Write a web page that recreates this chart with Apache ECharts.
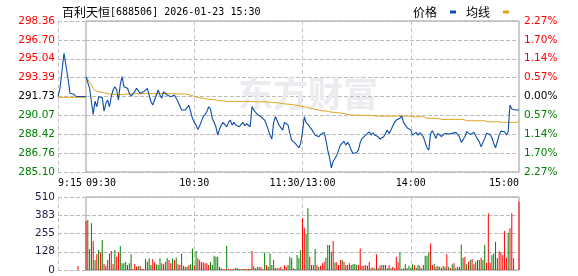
<!DOCTYPE html>
<html><head><meta charset="utf-8">
<script src="https://cdn.jsdelivr.net/npm/echarts@6/dist/echarts.min.js"></script>
<style>html,body{margin:0;padding:0;background:#fff}#c{width:578px;height:276px}</style>
</head><body><div id="c"></div>
<script>
const stockName = '百利天恒';
const stockInfo = '[688506] 2026-01-23 15:30';
const legendNames = ['价格', '均线'];
const prevClose = 291.73;
const priceMin = 285.10, priceMax = 298.36;
const priceTickLabels = ['285.10', '286.76', '288.42', '290.07', '291.73', '293.39', '295.04', '296.70', '298.36'];
const pctTickLabels = ['2.27%', '1.70%', '1.14%', '0.57%', '0.00%', '0.57%', '1.14%', '1.70%', '2.27%'];
const volMax = 510;
const volTickLabels = ['0', '128', '255', '383', '510'];
const xTickIdx = [0, 60, 120, 180, 240];
const xTickLabels = ['09:30', '10:30', '11:30/13:00', '14:00', '15:00'];
const preTimes = ['9:15','9:16','9:17','9:18','9:19','9:20','9:21','9:22','9:23','9:24','9:25','9:26','9:27','9:28','9:29'];
const prePrice = [291.73, 292.45, 292.59, 295.53, 295.53, 293.33, 292.01, 291.98, 291.92, 291.73, 291.73, 291.73, 291.73, 291.73, 291.73];
const preAvg = [291.66, 291.66, 291.66, 291.66, 291.66, 291.66, 291.66, 291.66, 291.66, 291.66, 291.66, 291.66, 291.66, 291.66, 291.66];
const preVolume = ['-', '-', '-', '-', '-', '-', '-', '-', '-', '-', 28, '-', '-', '-', '-'];
const mainPrice = [
293.47, 293.39, 292.45, 291.27, 290.16, 291.33, 290.83, 291.71, 291.71, 291.63,
290.45, 291.13, 291.42, 290.83, 291.71, 292.30, 292.59, 292.30, 291.42, 292.80,
293.47, 292.59, 292.59, 292.45, 292.01, 291.77, 291.77, 292.15, 292.45, 292.30,
292.01, 292.01, 292.15, 292.15, 292.45, 291.86, 291.27, 290.98, 291.42, 291.42,
292.30, 291.86, 291.57, 292.15, 292.01, 291.86, 291.71, 291.71, 291.71, 291.86,
291.57, 291.27, 291.13, 290.54, 290.45, 290.54, 290.75, 290.98, 290.39, 289.81,
289.46, 289.22, 288.84, 289.16, 289.57, 289.95, 290.16, 290.39, 290.83, 290.63,
289.81, 289.46, 289.07, 288.34, 288.87, 289.22, 289.46, 289.37, 289.07, 289.46,
289.66, 289.22, 289.46, 289.22, 289.37, 289.07, 289.28, 289.46, 289.16, 289.34,
289.46, 289.07, 290.83, 290.54, 290.34, 290.16, 290.10, 289.95, 289.81, 289.66,
289.28, 289.16, 288.34, 287.99, 289.46, 289.95, 289.87, 289.22, 289.16, 288.78,
289.46, 289.57, 289.22, 288.49, 287.90, 287.90, 287.61, 287.52, 287.23, 287.61,
288.63, 289.95, 289.46, 289.28, 289.07, 288.87, 288.58, 288.34, 288.34, 288.19,
288.40, 288.49, 288.58, 287.90, 287.02, 286.35, 285.47, 286.05, 286.29, 286.58,
287.02, 287.46, 287.61, 287.81, 287.46, 287.70, 287.46, 287.02, 286.73, 286.73,
286.82, 287.02, 287.70, 288.05, 288.05, 288.34, 288.49, 288.63, 288.34, 288.55,
288.34, 288.40, 288.19, 287.99, 287.99, 288.19, 288.49, 288.78, 288.49, 288.78,
288.93, 289.46, 289.66, 289.51, 289.81, 290.04, 289.46, 289.22, 288.99, 289.16,
288.78, 288.34, 288.49, 288.58, 288.34, 288.55, 288.40, 288.19, 287.70, 287.23,
287.02, 288.49, 288.72, 288.58, 288.05, 288.49, 288.34, 288.22, 288.34, 288.49,
288.58, 288.43, 288.40, 288.49, 288.63, 288.58, 288.40, 288.19, 287.70, 287.61,
288.19, 288.63, 288.69, 288.40, 288.46, 288.58, 288.28, 287.99, 287.75, 287.31,
287.70, 288.05, 288.49, 288.58, 288.40, 288.11, 287.61, 287.23, 287.23, 288.34,
288.69, 288.69, 288.63, 288.34, 288.63, 290.98, 290.63, 290.54, 290.54, 290.54, 290.54];
const mainAvg = [
293.47, 293.33, 292.97, 292.74, 292.45, 292.27, 292.21, 292.15, 292.12, 292.10,
292.04, 292.01, 291.98, 291.95, 291.95, 291.92, 291.92, 291.92, 291.89, 291.89,
291.92, 291.92, 291.92, 291.95, 291.95, 291.95, 291.95, 291.98, 291.98, 291.98,
291.98, 291.98, 291.98, 291.98, 291.98, 291.98, 291.98, 291.98, 291.98, 291.98,
291.98, 291.98, 291.98, 291.98, 291.98, 291.98, 291.98, 291.98, 291.98, 291.98,
291.98, 291.95, 291.95, 291.95, 291.95, 291.95, 291.92, 291.89, 291.86, 291.80,
291.74, 291.68, 291.66, 291.63, 291.60, 291.57, 291.54, 291.51, 291.51, 291.48,
291.48, 291.45, 291.42, 291.39, 291.36, 291.36, 291.33, 291.33, 291.30, 291.30,
291.30, 291.30, 291.30, 291.30, 291.30, 291.30, 291.30, 291.30, 291.30, 291.30,
291.27, 291.27, 291.27, 291.27, 291.27, 291.27, 291.27, 291.27, 291.27, 291.27,
291.27, 291.24, 291.24, 291.22, 291.22, 291.19, 291.19, 291.16, 291.13, 291.10,
291.10, 291.07, 291.04, 291.04, 291.01, 291.01, 290.98, 290.95, 290.92, 290.89,
290.86, 290.83, 290.80, 290.75, 290.72, 290.69, 290.63, 290.60, 290.57, 290.54,
290.51, 290.48, 290.45, 290.45, 290.42, 290.39, 290.36, 290.34, 290.34, 290.31,
290.31, 290.28, 290.25, 290.22, 290.19, 290.16, 290.13, 290.10, 290.10, 290.10,
290.10, 290.10, 290.10, 290.07, 290.07, 290.07, 290.07, 290.07, 290.07, 290.07,
290.07, 290.01, 290.01, 290.01, 290.01, 290.01, 290.01, 290.01, 290.01, 290.01,
290.01, 290.01, 290.01, 290.01, 290.01, 290.01, 290.01, 290.01, 290.01, 290.01,
290.01, 289.95, 289.95, 289.95, 289.95, 289.95, 289.95, 289.95, 289.95, 289.81,
289.81, 289.81, 289.81, 289.81, 289.81, 289.81, 289.81, 289.72, 289.72, 289.72,
289.72, 289.72, 289.72, 289.72, 289.72, 289.72, 289.72, 289.72, 289.72, 289.72,
289.72, 289.60, 289.60, 289.60, 289.60, 289.60, 289.60, 289.60, 289.60, 289.60,
289.60, 289.60, 289.51, 289.51, 289.51, 289.51, 289.51, 289.51, 289.51, 289.51,
289.46, 289.46, 289.46, 289.46, 289.46, 289.46, 289.46, 289.46, 289.46, 289.46, 289.57];
const mainVolume = [
342, 350, 147, 326, 203, 70, 110, 140, 123, 210,
42, 30, 70, 116, 133, 42, 140, 93, 123, 168,
47, 47, 58, 35, 47, 110, 7, 42, 23, 28,
28, 7, 7, 77, 58, 82, 35, 77, 54, 40,
35, 82, 47, 40, 58, 82, 70, 47, 82, 70,
86, 40, 35, 116, 30, 23, 23, 35, 40, 151,
35, 133, 82, 70, 54, 54, 47, 47, 35, 58,
35, 100, 93, 93, 23, 12, 7, 7, 170, 7,
7, 7, 7, 16, 12, 7, 7, 7, 7, 7,
7, 7, 133, 28, 12, 19, 23, 19, 7, 123,
35, 23, 116, 35, 70, 16, 12, 16, 23, 7,
35, 23, 35, 93, 82, 12, 7, 105, 82, 140,
361, 296, 252, 431, 93, 35, 35, 147, 35, 23,
30, 47, 58, 86, 175, 175, 128, 203, 54, 54,
35, 70, 70, 58, 35, 35, 47, 35, 40, 42,
35, 35, 151, 30, 30, 35, 30, 58, 12, 19,
12, 110, 12, 30, 35, 35, 35, 12, 35, 12,
23, 12, 93, 54, 123, 7, 12, 40, 12, 30,
12, 40, 35, 16, 35, 30, 12, 35, 100, 100,
123, 186, 35, 44, 23, 28, 23, 16, 28, 23,
110, 23, 12, 40, 47, 12, 23, 23, 179, 86,
93, 40, 58, 70, 77, 40, 58, 70, 70, 86,
70, 175, 51, 396, 51, 105, 116, 198, 82, 133,
123, 105, 273, 86, 261, 291, 396, 82, 0, 0, 478];
const mainVolDir = [
1,-1,-1,-1,1,-1,1,-1,1,-1,
1,1,-1,1,1,1,-1,1,1,-1,
-1,-1,-1,1,-1,-1,1,1,1,-1,
1,1,1,1,-1,-1,-1,1,1,-1,
-1,-1,1,-1,1,-1,1,1,-1,1,
-1,1,1,-1,1,1,-1,1,-1,-1,
1,-1,1,1,1,1,1,1,1,-1,
-1,-1,-1,-1,1,1,1,1,-1,1,
1,1,-1,-1,-1,1,1,-1,1,1,
1,-1,1,-1,-1,1,-1,1,1,-1,
1,-1,-1,-1,1,1,-1,1,1,-1,
1,1,-1,-1,-1,1,-1,-1,-1,-1,
1,1,-1,-1,1,-1,1,-1,1,-1,
1,1,1,-1,-1,-1,-1,1,-1,1,
1,1,-1,1,1,-1,1,1,-1,-1,
-1,1,1,1,1,1,-1,1,-1,1,
-1,1,-1,1,-1,1,1,-1,1,-1,
1,1,1,1,-1,1,-1,-1,-1,-1,
-1,-1,1,-1,-1,1,-1,-1,-1,-1,
-1,1,1,-1,1,-1,-1,1,1,-1,
1,-1,1,-1,1,-1,-1,-1,-1,-1,
1,-1,1,-1,1,1,-1,-1,-1,1,
-1,-1,1,1,1,-1,-1,-1,-1,1,
1,1,1,1,-1,1,1,-1,1,1,1];

function pad(n){return (n<10?'0':'')+n;}
const mainTimes = [];
for (let t = 9*60+30; t <= 11*60+30; t++) mainTimes.push(pad(Math.floor(t/60))+':'+pad(t%60));
for (let t = 13*60+1; t <= 15*60; t++) mainTimes.push(pad(Math.floor(t/60))+':'+pad(t%60));

const RED = '#ff0000', GREEN = '#008000', BLUE = '#0d4ea6', ORANGE = '#e0a21e';
const vDash = {color: '#c4c4c4', type: [4, 3], width: 1};
const hDash = {color: '#bcbcbc', type: 'dashed', width: 1};
const priceRows = priceTickLabels.length - 1;
const volRows = volTickLabels.length - 1;
const midRow = priceRows / 2;
function rowColor(r){ r = Math.round(Number(r)); return r === midRow ? '#000' : (r > midRow ? RED : GREEN); }
const labelFont = {fontFamily: 'DejaVu Sans', fontSize: 10.5};
const monoFont = {fontFamily: 'DejaVu Sans Mono', fontSize: 10};
function dataAxis(gridIndex, min, max){
  return {gridIndex: gridIndex, type: 'value', min: min, max: max, show: false, splitLine: {show: false}};
}
function rowAxis(gridIndex, rows, labels, pos, margin, colorFn){
  const lbl = labels ? Object.assign({show: true, margin: margin,
      formatter: (v) => labels[Math.round(Number(v))], color: colorFn}, labelFont) : {show: false};
  return {gridIndex: gridIndex, type: 'value', min: 0, max: rows, interval: 1, position: pos,
          axisLine: {show: false}, axisTick: {show: false}, axisLabel: lbl,
          splitLine: {show: true, lineStyle: {color: hDash.color, type: hDash.type, width: hDash.width}}};
}

const PL = 58, ML = 86, MW = 433, PT = 21, PH = 151, VT = 197, VH = 73;

const option = {
  animation: false,
  backgroundColor: '#fff',
  title: {
    text: '{a|' + stockName + '}{b|' + stockInfo + '}',
    left: 57, top: 1,
    textStyle: { fontWeight: 'normal', rich: {
      a: {fontFamily: 'Noto Sans CJK SC', fontSize: 12, color: '#000', fontWeight: 'normal'},
      b: {fontFamily: 'DejaVu Sans Mono', fontSize: 10, color: '#000', fontWeight: 'normal'}
    }}
  },
  legend: {
    data: legendNames, top: 1, right: 64, align: 'right', icon: 'rect',
    itemWidth: 6, itemHeight: 3, itemGap: 10,
    textStyle: {fontFamily: 'Noto Sans CJK SC', fontSize: 12, color: '#000', padding: [0, 8, 0, 0]}
  },
  graphic: [{
    type: 'text', left: 238, top: 76, z: 1, silent: true,
    style: {text: '东方财富', font: 'bold 35px "Noto Sans CJK SC"', fill: '#ececf0'}
  }],
  grid: [
    {left: PL, top: PT, width: ML-PL, height: PH, show: false},
    {left: ML, top: PT, width: MW, height: PH, show: true, borderColor: '#999', borderWidth: 1},
    {left: PL, top: VT, width: ML-PL, height: VH, show: false},
    {left: ML, top: VT, width: MW, height: VH, show: true, borderColor: '#999', borderWidth: 1}
  ],
  xAxis: [
    {gridIndex: 0, type: 'category', data: preTimes, boundaryGap: false,
     axisLine: {show: false}, axisTick: {show: false},
     axisLabel: Object.assign({interval: (i) => i === 0, alignMinLabel: 'left', margin: 6, color: '#000'}, monoFont),
     splitLine: {show: true, interval: (i) => i === 0, lineStyle: vDash}},
    {gridIndex: 1, type: 'category', data: mainTimes, boundaryGap: false,
     axisLine: {show: false}, axisTick: {show: false},
     axisLabel: Object.assign({interval: (i) => xTickIdx.indexOf(i) >= 0,
       formatter: (v, i) => xTickLabels[xTickIdx.indexOf(i)],
       alignMinLabel: 'left', alignMaxLabel: 'right', margin: 6, color: '#000', hideOverlap: false}, monoFont),
     splitLine: {show: true, interval: (i) => i === 60 || i === 120 || i === 180, lineStyle: vDash}},
    {gridIndex: 2, type: 'category', data: preTimes, boundaryGap: false,
     axisLine: {show: false}, axisTick: {show: false}, axisLabel: {show: false},
     splitLine: {show: true, interval: (i) => i === 0, lineStyle: vDash}},
    {gridIndex: 3, type: 'category', data: mainTimes, boundaryGap: false,
     axisLine: {show: false}, axisTick: {show: false}, axisLabel: {show: false},
     splitLine: {show: true, interval: (i) => i === 60 || i === 120 || i === 180, lineStyle: vDash}}
  ],
  yAxis: [
    dataAxis(0, priceMin, priceMax),
    dataAxis(1, priceMin, priceMax),
    dataAxis(2, 0, volMax),
    dataAxis(3, 0, volMax),
    rowAxis(0, priceRows, priceTickLabels, 'left', 3, rowColor),
    rowAxis(1, priceRows, pctTickLabels, 'right', 5, rowColor),
    rowAxis(2, volRows, volTickLabels, 'left', 3, '#1c1c48'),
    rowAxis(3, volRows, null, 'left', 3, null)
  ],
  series: [
    {type: 'line', xAxisIndex: 0, yAxisIndex: 0, data: preAvg, symbol: 'none', lineStyle: {color: ORANGE, width: 1}, z: 3},
    {type: 'line', xAxisIndex: 0, yAxisIndex: 0, data: prePrice, symbol: 'none', lineStyle: {color: BLUE, width: 1.1}, z: 4},
    {name: legendNames[1], type: 'line', xAxisIndex: 1, yAxisIndex: 1, data: mainAvg, symbol: 'none', itemStyle: {color: ORANGE}, lineStyle: {color: ORANGE, width: 1}, z: 3},
    {name: legendNames[0], type: 'line', xAxisIndex: 1, yAxisIndex: 1, data: mainPrice, symbol: 'none', itemStyle: {color: BLUE}, lineStyle: {color: BLUE, width: 1.1}, z: 4},
    {type: 'bar', xAxisIndex: 2, yAxisIndex: 2, data: preVolume, barWidth: 1, itemStyle: {color: RED}},
    {type: 'bar', xAxisIndex: 3, yAxisIndex: 3, barWidth: 1,
     data: mainVolume.map((v, i) => ({value: v, itemStyle: {color: mainVolDir[i] > 0 ? RED : GREEN}}))}
  ]
};
const chart = echarts.init(document.getElementById('c'), null, {renderer: 'canvas'});
chart.setOption(option);
</script>
</body></html>
